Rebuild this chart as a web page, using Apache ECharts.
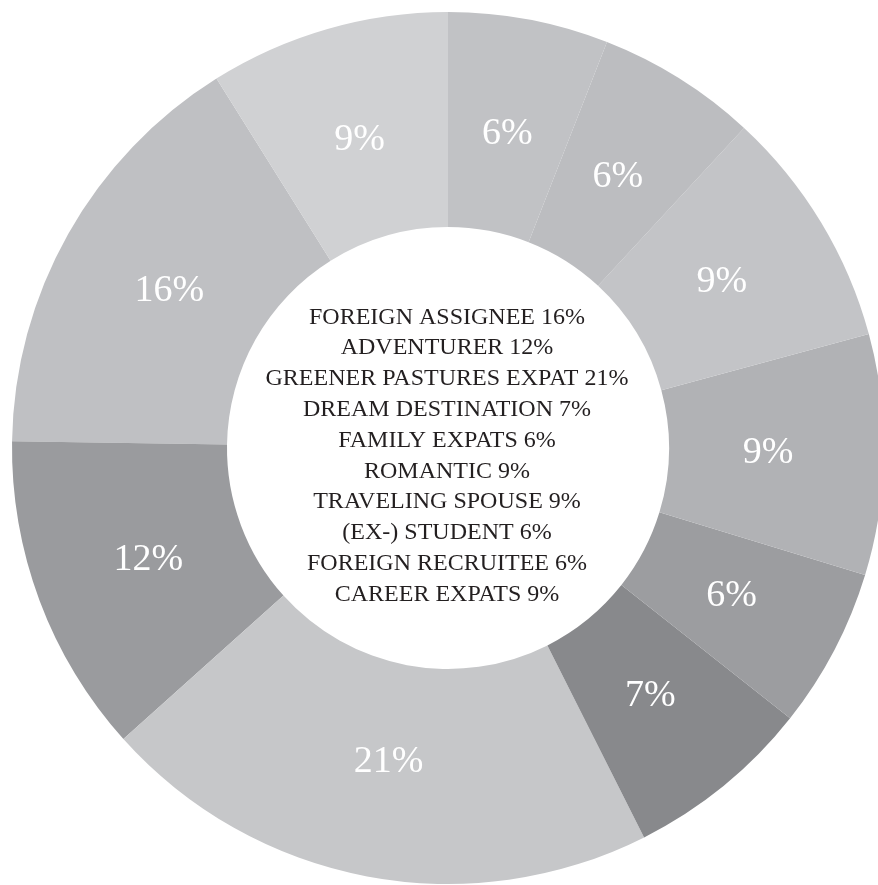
<!DOCTYPE html>
<html>
<head>
<meta charset="utf-8">
<title>Expat types</title>
<script src="https://cdn.jsdelivr.net/npm/echarts@6/dist/echarts.min.js"></script>
<style>
  html, body { margin: 0; padding: 0; background: #ffffff; }
  #chart { width: 878px; height: 885px; }
</style>
</head>
<body>
<div id="chart"></div>
<script>
// Expat types and their share of respondents, in percent
const categories = [
  'FOREIGN ASSIGNEE',
  'ADVENTURER',
  'GREENER PASTURES EXPAT',
  'DREAM DESTINATION',
  'FAMILY EXPATS',
  'ROMANTIC',
  'TRAVELING SPOUSE',
  '(EX-) STUDENT',
  'FOREIGN RECRUITEE',
  'CAREER EXPATS'
];
const shares = [16, 12, 21, 7, 6, 9, 9, 6, 6, 9];

// Grey palette, one tone per slice
const sliceColors = [
  '#bfc0c3', '#9a9b9e', '#c6c7c9', '#88898c', '#9c9da0',
  '#b1b2b5', '#c3c4c7', '#bcbdc0', '#c1c2c5', '#d0d1d3'
];

// Ring geometry (pixels)
const CX = 448, CY = 448;
const INNER_R = 221, OUTER_R = 436;
const LABEL_R = 320;

const total = shares.reduce((a, b) => a + b, 0);
// Slices run counter-clockwise; the last one ends at twelve o'clock
const startAngle = 90 + 360 * shares[shares.length - 1] / total;

const legendText = categories.map((c, i) => c + ' ' + shares[i] + '%').join('\n');

const chart = echarts.init(document.getElementById('chart'), null, { renderer: 'canvas' });

chart.setOption({
  backgroundColor: '#ffffff',
  animation: false,
  series: [{
    type: 'pie',
    center: [CX, CY],
    radius: [INNER_R, OUTER_R],
    clockwise: false,
    startAngle: startAngle,
    avoidLabelOverlap: false,
    itemStyle: { borderWidth: 0 },
    emphasis: { disabled: true },
    label: {
      show: true,
      position: 'inside',
      formatter: '{c}%',
      color: '#ffffff',
      fontFamily: '"Liberation Serif", "DejaVu Serif", serif',
      fontSize: 38,
      fontWeight: 'normal'
    },
    // keep each percentage on the slice's bisector, a little inside the ring's middle
    labelLayout: function (params) {
      const r = params.labelRect;
      const lx = r.x + r.width / 2;
      const ly = r.y + r.height / 2;
      const dx = lx - CX, dy = ly - CY;
      const d = Math.sqrt(dx * dx + dy * dy) || 1;
      return {
        x: CX + dx * LABEL_R / d,
        y: CY + dy * LABEL_R / d,
        align: 'center',
        verticalAlign: 'middle'
      };
    },
    labelLine: { show: false },
    data: categories.map((name, i) => ({
      name: name,
      value: shares[i],
      itemStyle: { color: sliceColors[i] }
    }))
  }],
  graphic: [{
    type: 'text',
    x: 447,
    y: 456,
    silent: true,
    style: {
      text: legendText,
      fill: '#231f20',
      font: '24px "Liberation Serif", "DejaVu Serif", serif',
      lineHeight: 30.8,
      align: 'center',
      verticalAlign: 'middle'
    }
  }]
});
</script>
</body>
</html>
